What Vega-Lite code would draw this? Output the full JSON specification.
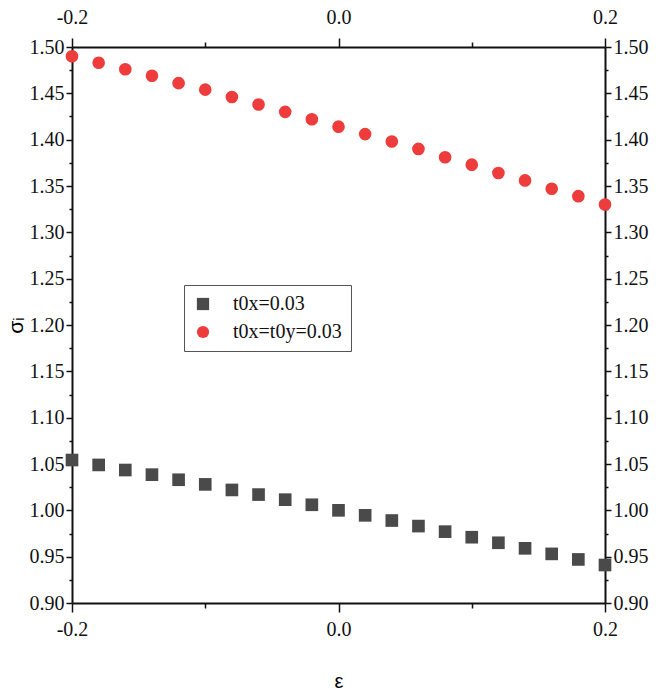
{
  "$schema": "https://vega.github.io/schema/vega-lite/v6.json",
  "width": 533,
  "height": 556,
  "autosize": "none",
  "padding": {"left": 72, "top": 47, "right": 61, "bottom": 93},
  "background": "white",
  "config": {
    "view": {"stroke": null},
    "font": "Liberation Sans Narrow",
    "axis": {"labelFont": "Liberation Sans Narrow", "titleFont": "Liberation Sans", "labelColor": "#111", "domainColor": "#111", "tickColor": "#111", "domainWidth": 2, "tickWidth": 1.5, "grid": false, "labelFontSize": 20, "titleFontWeight": "normal"}
  },
  "data": {
    "values": [
      {"eps": -0.20, "sigma": 1.0543, "series": "t0x=0.03"},
      {"eps": -0.18, "sigma": 1.049, "series": "t0x=0.03"},
      {"eps": -0.16, "sigma": 1.0435, "series": "t0x=0.03"},
      {"eps": -0.14, "sigma": 1.0385, "series": "t0x=0.03"},
      {"eps": -0.12, "sigma": 1.033, "series": "t0x=0.03"},
      {"eps": -0.10, "sigma": 1.028, "series": "t0x=0.03"},
      {"eps": -0.08, "sigma": 1.022, "series": "t0x=0.03"},
      {"eps": -0.06, "sigma": 1.017, "series": "t0x=0.03"},
      {"eps": -0.04, "sigma": 1.0115, "series": "t0x=0.03"},
      {"eps": -0.02, "sigma": 1.006, "series": "t0x=0.03"},
      {"eps": 0.00, "sigma": 1.000, "series": "t0x=0.03"},
      {"eps": 0.02, "sigma": 0.9946, "series": "t0x=0.03"},
      {"eps": 0.04, "sigma": 0.989, "series": "t0x=0.03"},
      {"eps": 0.06, "sigma": 0.983, "series": "t0x=0.03"},
      {"eps": 0.08, "sigma": 0.977, "series": "t0x=0.03"},
      {"eps": 0.10, "sigma": 0.971, "series": "t0x=0.03"},
      {"eps": 0.12, "sigma": 0.965, "series": "t0x=0.03"},
      {"eps": 0.14, "sigma": 0.959, "series": "t0x=0.03"},
      {"eps": 0.16, "sigma": 0.953, "series": "t0x=0.03"},
      {"eps": 0.18, "sigma": 0.947, "series": "t0x=0.03"},
      {"eps": 0.20, "sigma": 0.941, "series": "t0x=0.03"},
      {"eps": -0.20, "sigma": 1.490, "series": "t0x=t0y=0.03"},
      {"eps": -0.18, "sigma": 1.483, "series": "t0x=t0y=0.03"},
      {"eps": -0.16, "sigma": 1.476, "series": "t0x=t0y=0.03"},
      {"eps": -0.14, "sigma": 1.469, "series": "t0x=t0y=0.03"},
      {"eps": -0.12, "sigma": 1.461, "series": "t0x=t0y=0.03"},
      {"eps": -0.10, "sigma": 1.454, "series": "t0x=t0y=0.03"},
      {"eps": -0.08, "sigma": 1.446, "series": "t0x=t0y=0.03"},
      {"eps": -0.06, "sigma": 1.438, "series": "t0x=t0y=0.03"},
      {"eps": -0.04, "sigma": 1.430, "series": "t0x=t0y=0.03"},
      {"eps": -0.02, "sigma": 1.422, "series": "t0x=t0y=0.03"},
      {"eps": 0.00, "sigma": 1.414, "series": "t0x=t0y=0.03"},
      {"eps": 0.02, "sigma": 1.406, "series": "t0x=t0y=0.03"},
      {"eps": 0.04, "sigma": 1.398, "series": "t0x=t0y=0.03"},
      {"eps": 0.06, "sigma": 1.390, "series": "t0x=t0y=0.03"},
      {"eps": 0.08, "sigma": 1.381, "series": "t0x=t0y=0.03"},
      {"eps": 0.10, "sigma": 1.373, "series": "t0x=t0y=0.03"},
      {"eps": 0.12, "sigma": 1.364, "series": "t0x=t0y=0.03"},
      {"eps": 0.14, "sigma": 1.356, "series": "t0x=t0y=0.03"},
      {"eps": 0.16, "sigma": 1.347, "series": "t0x=t0y=0.03"},
      {"eps": 0.18, "sigma": 1.339, "series": "t0x=t0y=0.03"},
      {"eps": 0.20, "sigma": 1.330, "series": "t0x=t0y=0.03"}
    ]
  },
  "layer": [
    {
      "mark": {"type": "point", "filled": true, "opacity": 1, "size": 160},
      "encoding": {
        "x": {"field": "eps", "type": "quantitative", "scale": {"domain": [-0.2, 0.2], "nice": false, "zero": false},
          "axis": {"orient": "bottom", "title": "ε", "titleFontSize": 20, "titlePadding": 32, "values": [-0.2, -0.1, 0, 0.1, 0.2], "labelExpr": "abs(round(datum.value*10))%2==1 ? '' : (datum.value < 0 ? '-' : '') + format(abs(datum.value), '.1f')", "tickSize": {"condition": {"test": "abs(round(datum.value*10))%2==1", "value": 5}, "value": 9}, "labelPadding": 7, "labelFlush": false}},
        "y": {"field": "sigma", "type": "quantitative", "scale": {"domain": [0.9, 1.5], "nice": false, "zero": false},
          "axis": {"orient": "left", "title": "σᵢ", "titleFontSize": 21, "titlePadding": 3, "values": [0.9,0.925,0.95,0.975,1.0,1.025,1.05,1.075,1.1,1.125,1.15,1.175,1.2,1.225,1.25,1.275,1.3,1.325,1.35,1.375,1.4,1.425,1.45,1.475,1.5], "labelExpr": "abs(round(datum.value*40))%2==1 ? '' : format(datum.value, '.2f')", "tickSize": {"condition": {"test": "abs(round(datum.value*40))%2==1", "value": 3}, "value": 6}, "labelPadding": 2}},
        "color": {"field": "series", "type": "nominal", "scale": {"domain": ["t0x=0.03", "t0x=t0y=0.03"], "range": ["#4a4a4a", "#ee3b3b"]},
          "legend": {"title": null, "orient": "none", "legendX": 112, "legendY": 238, "labelFont": "Liberation Sans Narrow", "labelFontSize": 20, "labelColor": "#111", "symbolSize": 150, "strokeColor": "#555", "padding": 9, "rowPadding": 8, "labelOffset": 20, "symbolOpacity": 1, "offset": 0}},
        "shape": {"field": "series", "type": "nominal", "scale": {"domain": ["t0x=0.03", "t0x=t0y=0.03"], "range": ["square", "circle"]}}
      }
    },
    {
      "mark": {"type": "point", "opacity": 0},
      "encoding": {
        "x": {"field": "eps", "type": "quantitative", "scale": {"domain": [-0.2, 0.2], "nice": false, "zero": false},
          "axis": {"orient": "top", "title": null, "values": [-0.2, -0.1, 0, 0.1, 0.2], "labelExpr": "abs(round(datum.value*10))%2==1 ? '' : (datum.value < 0 ? '-' : '') + format(abs(datum.value), '.1f')", "tickSize": {"condition": {"test": "abs(round(datum.value*10))%2==1", "value": 5}, "value": 9}, "labelPadding": 11, "labelFlush": false}},
        "y": {"field": "sigma", "type": "quantitative", "scale": {"domain": [0.9, 1.5], "nice": false, "zero": false},
          "axis": {"orient": "right", "title": null, "values": [0.9,0.925,0.95,0.975,1.0,1.025,1.05,1.075,1.1,1.125,1.15,1.175,1.2,1.225,1.25,1.275,1.3,1.325,1.35,1.375,1.4,1.425,1.45,1.475,1.5], "labelExpr": "abs(round(datum.value*40))%2==1 ? '' : format(datum.value, '.2f')", "tickSize": {"condition": {"test": "abs(round(datum.value*40))%2==1", "value": 3}, "value": 6}, "labelPadding": 2}}
      }
    }
  ],
  "resolve": {"axis": {"x": "independent", "y": "independent"}}
}
